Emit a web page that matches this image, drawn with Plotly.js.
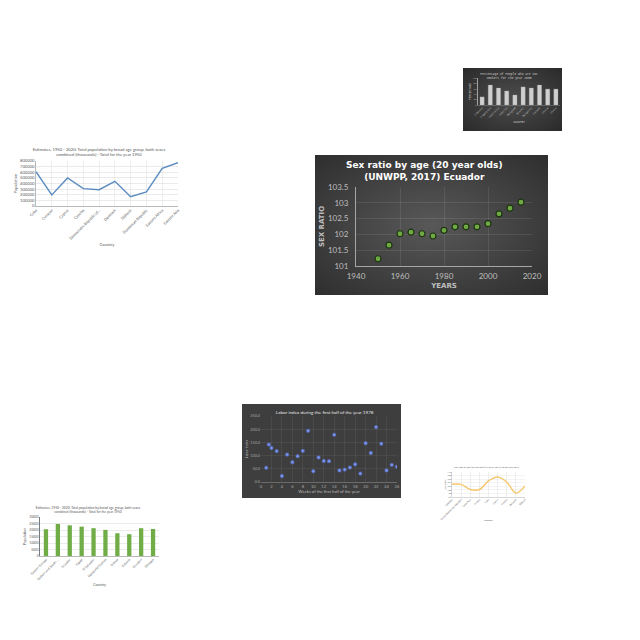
<!DOCTYPE html>
<html>
<head>
<meta charset="utf-8">
<script src="https://cdn.plot.ly/plotly-3.0.1.min.js"></script>
<style>
html,body{margin:0;padding:0;background:#fff;}
body{width:640px;height:640px;position:relative;overflow:hidden;}
.c{position:absolute;}
#chA{left:463px;top:68px;width:99px;height:63px;background:radial-gradient(ellipse at center,#4d4d4d 0%,#2a2a2a 100%);}
#chB{left:5px;top:138px;width:180px;height:115px;}
#chC{left:315px;top:155px;width:233px;height:140px;background:radial-gradient(ellipse at center,#585858 0%,#2e2e2e 100%);}
#chD{left:242px;top:404px;width:159px;height:94px;background:#3e3e3e;}
#chE{left:434px;top:462px;width:94px;height:60px;}
#chF{left:0px;top:490px;width:165px;height:108px;}
</style>
</head>
<body>
<div id="chA" class="c"></div>
<div id="chB" class="c"></div>
<div id="chC" class="c"></div>
<div id="chD" class="c"></div>
<div id="chE" class="c"></div>
<div id="chF" class="c"></div>
<script>
// ---------- Chart A: non-smokers percentage ----------
const smokeCountries = ["Albania","Argentina","Australia","Austria","Belgium","Brazil","Bulgaria","Canada","Chile","China"];
const smokeValues = [30, 74, 63, 52, 37, 67, 63, 74, 59, 59];

// ---------- Chart B: population 1950 (line) ----------
const popCountriesB = ["Cuba","Curaçao","Cyprus","Czechia","Democratic Republic of...","Denmark","Djibouti","Dominican Republic","Eastern Africa","Eastern Asia"];
const popValuesB = [610000, 196000, 498000, 308000, 290000, 438000, 166000, 249000, 670000, 770000];

// ---------- Chart C: Ecuador sex ratio ----------
const sexYears = [1950,1955,1960,1965,1970,1975,1980,1985,1990,1995,2000,2005,2010,2015];
const sexRatio = [101.23,101.66,102.02,102.07,102.02,101.95,102.13,102.24,102.24,102.24,102.34,102.65,102.83,103.02];

// ---------- Chart D: labor index 1978 ----------
const laborWeeks = [1,1.5,2,3,4,5,6,7,8,9,10,11,12,13,14,15,16,17,18,19,20,21,22,23,24,25,26];
const laborIndex = [54,142,129,117,23,104,75,98,118,194,41,93,80,79,179,44,47,55,67,32,147,110,208,145,44,65,58];

// ---------- Chart E: sex ratio 2015 (small line) ----------
const sexCountriesE = ["Colombia","Congo (Democratic Republic)","Costa Rica","Croatia","Cuba","Cyprus","Czechia","Denmark","Djibouti"];
const sexValuesE = [103.1,103.1,100.2,100.2,105.0,107.2,104.4,98.2,102.2];

// ---------- Chart F: population 1950 (bars) ----------
const popCountriesF = ["Eastern Europe","Eastern and South-...","Ecuador","Egypt","El Salvador","Equatorial Guinea","Eritrea","Estonia","Eswatini","Ethiopia"];
const popValuesF = [20600, 24700, 23600, 22600, 21400, 20100, 17500, 16800, 21400, 20800];

const cfg = {staticPlot:true, displayModeBar:false};
const LATO = "Lato, 'Open Sans', sans-serif";
const MONO = "'Liberation Mono', 'DejaVu Sans Mono', monospace";
const DJB = "'DejaVu Sans', Verdana, sans-serif";

// A
Plotly.newPlot('chA', [{
  type:'bar', x:smokeCountries, y:smokeValues,
  marker:{color:'#cfcfcf', line:{color:'#9a9a9a', width:0.3}}
}], {
  width:99, height:63, margin:{l:15, r:2, t:10, b:26.3, pad:0},
  paper_bgcolor:'rgba(0,0,0,0)', plot_bgcolor:'rgba(0,0,0,0)',
  bargap:0.48, showlegend:false,
  title:{text:'Percentage of People who are not<br>smokers for the year 2005', font:{family:MONO, size:3, color:'#d0d0d0'},
         xref:'container', x:0.465, xanchor:'center', yref:'container', y:0.894, yanchor:'middle'},
  xaxis:{tickangle:-45, tickfont:{family:MONO, size:2.6, color:'#c8c8c8'}, showline:true, linecolor:'#8a8a8a', linewidth:0.5,
         title:{text:'COUNTRY', font:{family:MONO, size:2.8, color:'#c8c8c8'}, standoff:2}},
  yaxis:{range:[0,100], dtick:20, tickfont:{family:MONO, size:2.4, color:'#c8c8c8'}, showgrid:false, zeroline:false,
         showline:true, linecolor:'#bdbdbd', linewidth:0.8,
         title:{text:'PERCENTAGE', font:{family:MONO, size:2.8, color:'#c8c8c8'}, standoff:1}}
}, cfg);

// B
Plotly.newPlot('chB', [{
  type:'scatter', mode:'lines', x:popCountriesB, y:popValuesB,
  line:{color:'#5b8cc0', width:1.4}
}], {
  width:180, height:115, margin:{l:31, r:7, t:23.3, b:46.7, pad:0},
  paper_bgcolor:'#fff', plot_bgcolor:'#fff', showlegend:false,
  title:{text:'Estimates, 1950 - 2020: Total population by broad age group, both sexes<br>combined (thousands) - Total for the year 1950',
         font:{family:LATO, size:4.2, color:'#595959'},
         xref:'container', x:0.522, xanchor:'center', yref:'container', y:0.887, yanchor:'middle'},
  xaxis:{tickangle:-45, tickfont:{family:LATO, size:3.8, color:'#595959'}, showline:true, linecolor:'#8c8c8c', linewidth:0.6,
         title:{text:'Country', font:{family:LATO, size:4.2, color:'#595959'}, standoff:3}},
  yaxis:{range:[0,800000], dtick:100000, tickformat:'d', tickfont:{family:LATO, size:4.2, color:'#595959'},
         gridcolor:'#dedede', gridwidth:0.6, zeroline:false, showline:true, linecolor:'#8c8c8c', linewidth:0.6,
         title:{text:'Population', font:{family:LATO, size:4.2, color:'#595959'}, standoff:2}}
}, cfg);

// C
Plotly.newPlot('chC', [{
  type:'scatter', mode:'markers', x:sexYears, y:sexRatio,
  marker:{color:'#6fa943', size:6, line:{color:'#1c3310', width:1.2}}
}], {
  width:233, height:140, margin:{l:41, r:16, t:32, b:29, pad:0},
  paper_bgcolor:'rgba(0,0,0,0)', plot_bgcolor:'rgba(0,0,0,0)', showlegend:false,
  title:{text:'<b>Sex ratio by age (20 year olds)<br>(UNWPP, 2017) Ecuador</b>', font:{family:DJB, size:9, color:'#ffffff'},
         xref:'container', x:0.469, xanchor:'center', yref:'container', y:0.905, yanchor:'middle'},
  xaxis:{range:[1940,2020], dtick:20, tickfont:{family:LATO, size:8, color:'#bfbfbf'},
         gridcolor:'rgba(255,255,255,0.13)', gridwidth:0.7, zeroline:false, showline:true, linecolor:'#a6a6a6', linewidth:1,
         ticklabelstandoff:2,
         title:{text:'<b>YEARS</b>', font:{family:DJB, size:7, color:'#bfbfbf'}, standoff:3}},
  yaxis:{range:[101,103.5], dtick:0.5, tickfont:{family:LATO, size:8, color:'#bfbfbf'},
         gridcolor:'rgba(255,255,255,0.13)', gridwidth:0.7, zeroline:false, showline:true, linecolor:'#a6a6a6', linewidth:1,
         ticklabelstandoff:5,
         title:{text:'<b>SEX RATIO</b>', font:{family:DJB, size:7, color:'#bfbfbf'}, standoff:2}}
}, cfg);

// D
Plotly.newPlot('chD', [{
  type:'scatter', mode:'markers', x:laborWeeks, y:laborIndex,
  marker:{color:'#7a98ee', size:3.2, line:{color:'rgba(90,110,200,0.55)', width:1.2}}
}], {
  width:159, height:94, margin:{l:18.7, r:4.3, t:12, b:16.3, pad:0},
  paper_bgcolor:'rgba(0,0,0,0)', plot_bgcolor:'rgba(0,0,0,0)', showlegend:false,
  title:{text:'Labor index during the first half of the year 1978', font:{family:LATO, size:4.6, color:'#e6e6e6'},
         xref:'container', x:0.52, xanchor:'center', yref:'container', y:0.915, yanchor:'middle'},
  xaxis:{range:[0,26], dtick:2, tickfont:{family:LATO, size:4.2, color:'#a6a6a6'},
         gridcolor:'rgba(255,255,255,0.12)', gridwidth:0.5, zeroline:false, showline:true, linecolor:'#8a8a8a', linewidth:0.6,
         title:{text:'Weeks of the first half of the year', font:{family:LATO, size:4.2, color:'#bdbdbd'}, standoff:2}},
  yaxis:{range:[0,250], dtick:50, tickformat:'.1f', tickfont:{family:LATO, size:3.8, color:'#a6a6a6'},
         gridcolor:'rgba(255,255,255,0.12)', gridwidth:0.5, zeroline:false, showline:false,
         title:{text:'Labor index', font:{family:LATO, size:3.6, color:'#bdbdbd'}, standoff:2}}
}, cfg);

// E
Plotly.newPlot('chE', [{
  type:'scatter', mode:'lines', x:sexCountriesE, y:sexValuesE,
  line:{color:'#f6c76e', width:1.4, shape:'spline', smoothing:1}
}], {
  width:94, height:60, margin:{l:18, r:3, t:9.7, b:25, pad:0},
  paper_bgcolor:'#fff', plot_bgcolor:'#fff', showlegend:false,
  title:{text:'Sex ratio by age (20 year olds) (UNWPP, 2017) for the year 2015', font:{family:LATO, size:2.3, color:'#595959'},
         xref:'container', x:0.56, xanchor:'center', yref:'container', y:0.92, yanchor:'middle'},
  xaxis:{tickangle:-45, tickfont:{family:LATO, size:2.3, color:'#595959'}, showline:true, linecolor:'#9a9a9a', linewidth:0.4,
         title:{text:'Country', font:{family:LATO, size:2.5, color:'#595959'}, standoff:2}},
  yaxis:{range:[96,110], dtick:2, tickfont:{family:LATO, size:2.2, color:'#595959'},
         gridcolor:'#e3e3e3', gridwidth:0.4, zeroline:false, showline:true, linecolor:'#9a9a9a', linewidth:0.4,
         title:{text:'Sex Ratio', font:{family:LATO, size:2.4, color:'#595959'}, standoff:1}}
}, cfg);

// F
Plotly.newPlot('chF', [{
  type:'bar', x:popCountriesF, y:popValuesF,
  marker:{color:'#70ad47'}
}], {
  width:165, height:108, margin:{l:40, r:5.7, t:27, b:41.7, pad:0},
  paper_bgcolor:'#fff', plot_bgcolor:'#fff', bargap:0.64, showlegend:false,
  title:{text:'Estimates, 1950 - 2020: Total population by broad age group, both sexes<br>combined (thousands) - Total for the year 1950',
         font:{family:LATO, size:3.3, color:'#595959'},
         xref:'container', x:0.533, xanchor:'center', yref:'container', y:0.824, yanchor:'middle'},
  xaxis:{tickangle:-45, tickfont:{family:LATO, size:3.2, color:'#595959'}, showline:true, linecolor:'#8c8c8c', linewidth:0.6,
         title:{text:'Country', font:{family:LATO, size:3.6, color:'#595959'}, standoff:3}},
  yaxis:{range:[0,30000], dtick:5000, tickformat:'d', tickfont:{family:LATO, size:3.2, color:'#595959'},
         gridcolor:'#dedede', gridwidth:0.6, zeroline:false, showline:true, linecolor:'#595959', linewidth:0.8,
         title:{text:'Population', font:{family:LATO, size:3.6, color:'#595959'}, standoff:2}}
}, cfg);
</script>
</body>
</html>
